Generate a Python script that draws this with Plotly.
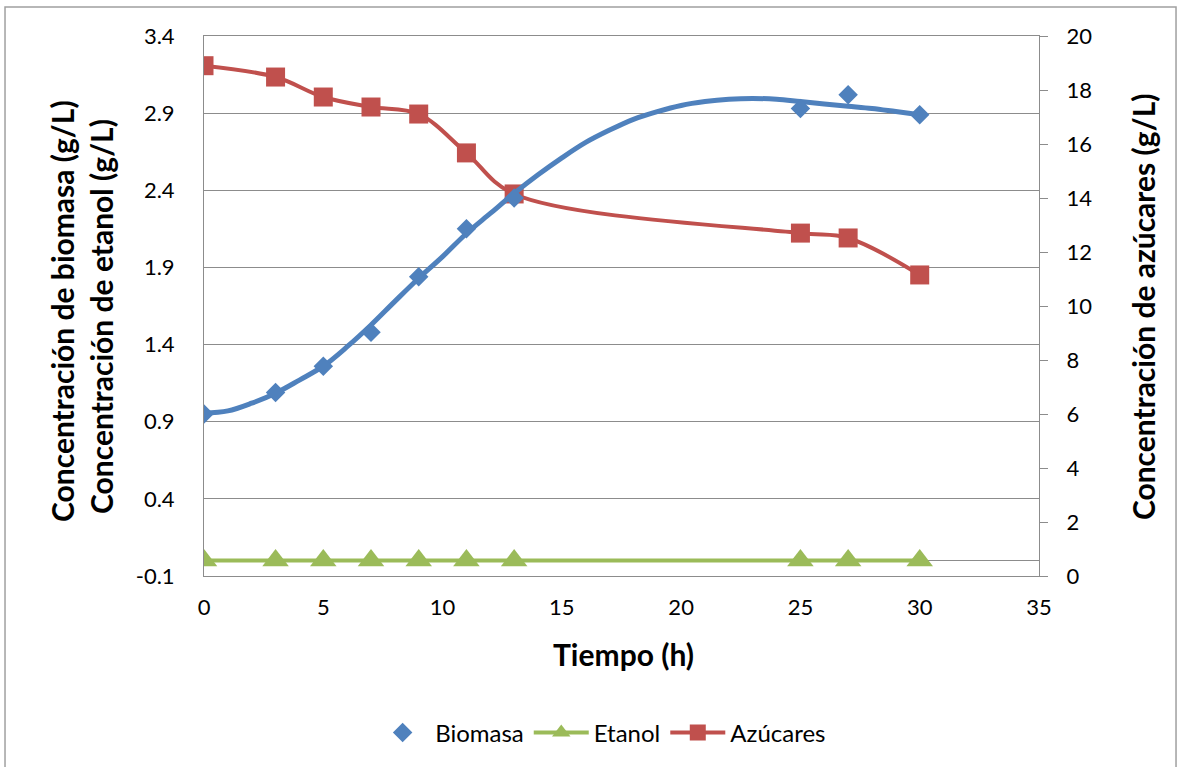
import plotly.graph_objects as go

# Measured data
tiempo = [0, 3, 5, 7, 9, 11, 13, 25, 27, 30]
biomasa = [0.95, 1.09, 1.26, 1.48, 1.84, 2.15, 2.35, 2.93, 3.02, 2.89]
etanol = [0, 0, 0, 0, 0, 0, 0, 0, 0, 0]
azucares = [18.9, 18.48, 17.74, 17.37, 17.11, 15.67, 14.15, 12.70, 12.52, 11.15]

# Biomass trend line
trend_x = [0, 1, 2, 3, 4, 5, 6, 7, 8, 9, 10, 11, 12, 13, 14, 15, 16, 17, 18, 19,
           20, 21, 22, 23, 24, 25, 26, 27, 28, 29, 30]
trend_y = [0.955, 0.97, 1.02, 1.085, 1.17, 1.26, 1.386, 1.527, 1.68, 1.83, 1.97,
           2.12, 2.25, 2.38, 2.50, 2.61, 2.71, 2.79, 2.86, 2.91, 2.95, 2.975, 2.99,
           2.995, 2.99, 2.975, 2.96, 2.945, 2.93, 2.91, 2.89]

x_ticks = [0, 5, 10, 15, 20, 25, 30, 35]
left_ticks = [-0.1, 0.4, 0.9, 1.4, 1.9, 2.4, 2.9, 3.4]
left_labels = ["-0.1", "0.4", "0.9", "1.4", "1.9", "2.4", "2.9", "3.4"]
right_ticks = [0, 2, 4, 6, 8, 10, 12, 14, 16, 18, 20]

BLUE = "#4F81BD"
RED = "#C0504D"
GREEN = "#9BBB59"
GRID = "#8C8C8C"
FONT = "Lato"

fig = go.Figure()

# Sugar on base axis (right side)
fig.add_trace(go.Scatter(
    x=tiempo, y=azucares, name="Azúcares", mode="lines+markers",
    line=dict(color=RED, width=4, shape="spline", smoothing=1.0),
    marker=dict(symbol="square", size=19, color=RED),
    yaxis="y", legendrank=3))

# Biomass / ethanol on overlay axis (left side)
fig.add_trace(go.Scatter(
    x=trend_x, y=trend_y, mode="lines", showlegend=False, hoverinfo="skip",
    line=dict(color=BLUE, width=5, shape="spline", smoothing=1.0),
    yaxis="y2"))
fig.add_trace(go.Scatter(
    x=tiempo, y=biomasa, name="Biomasa", mode="markers",
    marker=dict(symbol="diamond", size=15, color=BLUE),
    yaxis="y2", legendrank=1))
fig.add_trace(go.Scatter(
    x=tiempo, y=etanol, name="Etanol", mode="lines+markers",
    line=dict(color=GREEN, width=4),
    marker=dict(symbol="triangle-up", size=23, color=GREEN),
    yaxis="y2", legendrank=2))

tickfont = dict(family=FONT, size=22, color="#000000")
titlefont = dict(family=FONT, size=30, color="#000000")

fig.update_layout(
    width=1177, height=767,
    margin=dict(l=204, r=138, t=36, b=191),
    paper_bgcolor="white", plot_bgcolor="white",
    showlegend=True,
    legend=dict(orientation="h", x=0.475, xanchor="center", y=-0.2907,
                yanchor="middle", font=dict(family=FONT, size=24, color="#000"),
                itemwidth=55, traceorder="normal"),
    xaxis=dict(range=[0, 35], tickvals=x_ticks, tickfont=tickfont,
               showgrid=False, zeroline=False, showline=True, mirror=True,
               linecolor=GRID, linewidth=1, ticks="", ticklabelstandoff=12),
    yaxis=dict(range=[0, 20], tickvals=right_ticks, side="right",
               tickfont=tickfont, showgrid=False, zeroline=False,
               showline=True, linecolor=GRID, linewidth=1,
               ticks="outside", ticklen=8, tickcolor=GRID,
               ticklabelstandoff=14),
    yaxis2=dict(range=[-0.1, 3.4], tickvals=left_ticks, ticktext=left_labels,
                side="left", overlaying="y", tickfont=tickfont,
                showgrid=True, gridcolor=GRID, gridwidth=1,
                zeroline=True, zerolinecolor=GRID, zerolinewidth=1,
                showline=True, linecolor=GRID, linewidth=1, ticks="",
                ticklabelstandoff=24),
    annotations=[
        dict(text="<b>Concentración de biomasa (g/L)</b>", xref="paper", yref="paper",
             x=-0.1701, y=0.4907, xanchor="center", yanchor="middle",
             textangle=-90, showarrow=False, font=titlefont),
        dict(text="<b>Concentración de etanol (g/L)</b>", xref="paper", yref="paper",
             x=-0.1234, y=0.4815, xanchor="center", yanchor="middle",
             textangle=-90, showarrow=False, font=titlefont),
        dict(text="<b>Concentración de azúcares (g/L)</b>", xref="paper", yref="paper",
             x=1.1246, y=0.498, xanchor="center", yanchor="middle",
             textangle=-90, showarrow=False, font=titlefont),
        dict(text="<b>Tiempo (h)</b>", xref="paper", yref="paper",
             x=0.5018, y=-0.1444, xanchor="center", yanchor="middle",
             showarrow=False, font=titlefont),
    ],
    shapes=[dict(type="rect", xref="paper", yref="paper",
                 x0=-0.2383, x1=1.1641, y0=-0.3556, y1=1.0537,
                 line=dict(color="#A0A0A0", width=1.5), layer="below")],
)

fig.write_html("out.html")
